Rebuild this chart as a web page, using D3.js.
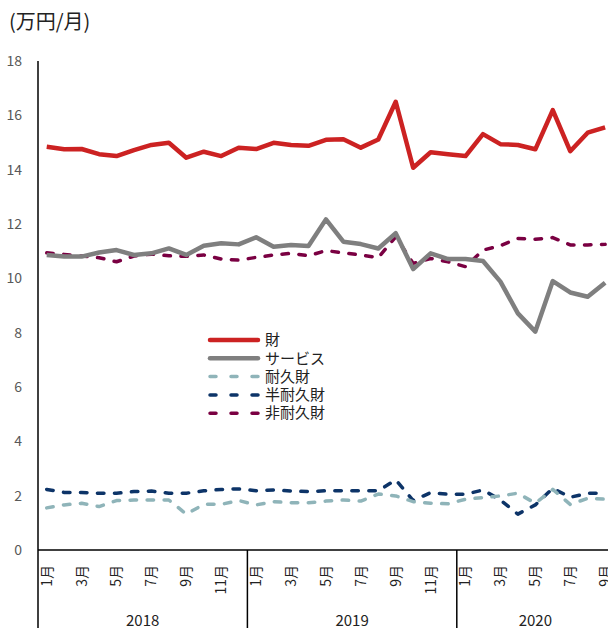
<!DOCTYPE html>
<html>
<head>
<meta charset="utf-8">
<script src="https://cdn.jsdelivr.net/npm/d3@7"></script>
<style>
  body { margin: 0; background: #fff; }
  svg { display: block; font-family: "Noto Sans CJK JP", "Noto Sans", sans-serif; }
</style>
</head>
<body>
<div id="chart"></div>
<script>
// data (万円/月)
const years = ['2018', '2019', '2020'];
const monthsPerYear = [12, 12, 9];
const yTicks = [0, 2, 4, 6, 8, 10, 12, 14, 16, 18];

const goods = [14.84, 14.75, 14.76, 14.57, 14.50, 14.72, 14.91, 14.99, 14.44, 14.66, 14.50, 14.81,
               14.76, 14.99, 14.91, 14.88, 15.10, 15.12, 14.81, 15.11, 16.50, 14.07, 14.64, 14.57,
               14.50, 15.31, 14.94, 14.91, 14.75, 16.19, 14.68, 15.36, 15.56];
const services = [10.86, 10.80, 10.80, 10.95, 11.04, 10.86, 10.92, 11.10, 10.86, 11.20, 11.29, 11.25,
                  11.51, 11.16, 11.23, 11.19, 12.17, 11.35, 11.26, 11.10, 11.66, 10.34, 10.92, 10.71,
                  10.71, 10.64, 9.88, 8.71, 8.04, 9.90, 9.48, 9.32, 9.84];
const durable = [1.55, 1.66, 1.72, 1.60, 1.82, 1.84, 1.84, 1.84, 1.32, 1.68, 1.68, 1.82,
                 1.66, 1.78, 1.74, 1.74, 1.80, 1.84, 1.80, 2.06, 1.99, 1.78, 1.72, 1.70,
                 1.87, 1.93, 1.99, 2.09, 1.72, 2.23, 1.68, 1.90, 1.87];
const semiDurable = [2.23, 2.12, 2.12, 2.09, 2.09, 2.15, 2.17, 2.09, 2.09, 2.18, 2.23, 2.25,
                     2.18, 2.21, 2.17, 2.15, 2.18, 2.18, 2.18, 2.18, 2.58, 1.82, 2.11, 2.05,
                     2.05, 2.21, 1.84, 1.32, 1.66, 2.27, 1.94, 2.09, 2.09];
const nonDurable = [10.94, 10.88, 10.82, 10.76, 10.61, 10.82, 10.89, 10.83, 10.81, 10.86, 10.71, 10.67,
                    10.77, 10.86, 10.92, 10.83, 11.02, 10.94, 10.86, 10.76, 11.53, 10.55, 10.73, 10.61,
                    10.43, 11.04, 11.20, 11.47, 11.44, 11.50, 11.23, 11.23, 11.25];

const seriesNames = ['財', 'サービス', '耐久財', '半耐久財', '非耐久財'];
const seriesColors = ['#cc2222', '#7f7f7f', '#8fb4b9', '#0d3468', '#7a0042'];

const series = [goods, services, durable, semiDurable, nonDurable].map((v, k) => ({
  name: seriesNames[k], color: seriesColors[k], values: v, dashed: k >= 2
}));

// month list
const months = [];
years.forEach((yr, yi) => {
  for (let m = 1; m <= monthsPerYear[yi]; m++) months.push({ year: yr, month: m });
});

const W = 608, H = 628;
const plotLeft = 38, plotTop = 61, axisY = 550;
const step = 17.45;

const svg = d3.select('#chart').append('svg')
  .attr('width', W).attr('height', H);

const x = d3.scaleLinear()
  .domain([0, months.length])
  .range([plotLeft, plotLeft + months.length * step]);

const y = d3.scaleLinear()
  .domain([0, 18])
  .range([axisY, plotTop]);

// unit label
svg.append('text')
  .attr('x', 9).attr('y', 29)
  .attr('font-size', 20).attr('fill', '#222')
  .text('(万円/月)');

// y tick labels
svg.append('g').selectAll('text')
  .data(yTicks).enter().append('text')
  .attr('x', 22).attr('y', d => y(d))
  .attr('dy', '0.35em')
  .attr('text-anchor', 'end')
  .attr('font-size', 14).attr('fill', '#595959')
  .text(d => d);

// y axis line (runs down through the category area)
svg.append('line')
  .attr('x1', plotLeft).attr('x2', plotLeft)
  .attr('y1', plotTop).attr('y2', H)
  .attr('stroke', '#000').attr('stroke-width', 1.5);

// x axis line
svg.append('line')
  .attr('x1', plotLeft).attr('x2', W)
  .attr('y1', axisY).attr('y2', axisY)
  .attr('stroke', '#000').attr('stroke-width', 1.5);

// year separators and labels
let start = 0;
years.forEach((yr, yi) => {
  const end = start + monthsPerYear[yi];
  svg.append('line')
    .attr('x1', x(end)).attr('x2', x(end))
    .attr('y1', axisY).attr('y2', H)
    .attr('stroke', '#000').attr('stroke-width', 1.5);
  svg.append('text')
    .attr('x', (x(start) + x(end)) / 2).attr('y', 626)
    .attr('text-anchor', 'middle')
    .attr('font-size', 15).attr('fill', '#222')
    .text(yr);
  start = end;
});

// month labels (odd months only)
svg.append('g').selectAll('text')
  .data(months.map((d, i) => ({ ...d, i })).filter(d => d.month % 2 === 1))
  .enter().append('text')
  .attr('transform', d => `translate(${x(d.i + 0.5)},565) rotate(-90)`)
  .attr('dy', '0.35em')
  .attr('text-anchor', 'end')
  .attr('font-size', 14).attr('fill', '#222')
  .text(d => d.month + '月');

// lines
const line = d3.line()
  .x((d, i) => x(i + 0.5))
  .y(d => y(d));

svg.append('g').selectAll('path')
  .data(series.slice().reverse())
  .enter().append('path')
  .attr('d', d => line(d.values))
  .attr('fill', 'none')
  .attr('stroke', d => d.color)
  .attr('stroke-width', d => d.dashed ? 3.5 : 4.5)
  .attr('stroke-linecap', d => d.dashed ? 'round' : 'butt')
  .attr('stroke-linejoin', 'round')
  .attr('stroke-dasharray', d => d.dashed ? '6.5,10.5' : null);

// legend
const legend = svg.append('g').attr('transform', 'translate(210,340)');
const rowH = 18.3;
series.forEach((s, k) => {
  legend.append('line')
    .attr('x1', 0).attr('x2', 48)
    .attr('y1', k * rowH).attr('y2', k * rowH)
    .attr('stroke', s.color)
    .attr('stroke-width', s.dashed ? 3.5 : 4.5)
    .attr('stroke-linecap', 'round')
    .attr('stroke-dasharray', s.dashed ? '6,15' : null);
  legend.append('text')
    .attr('x', 55).attr('y', k * rowH)
    .attr('dy', '0.35em')
    .attr('font-size', 15).attr('fill', '#222')
    .text(s.name);
});
</script>
</body>
</html>
